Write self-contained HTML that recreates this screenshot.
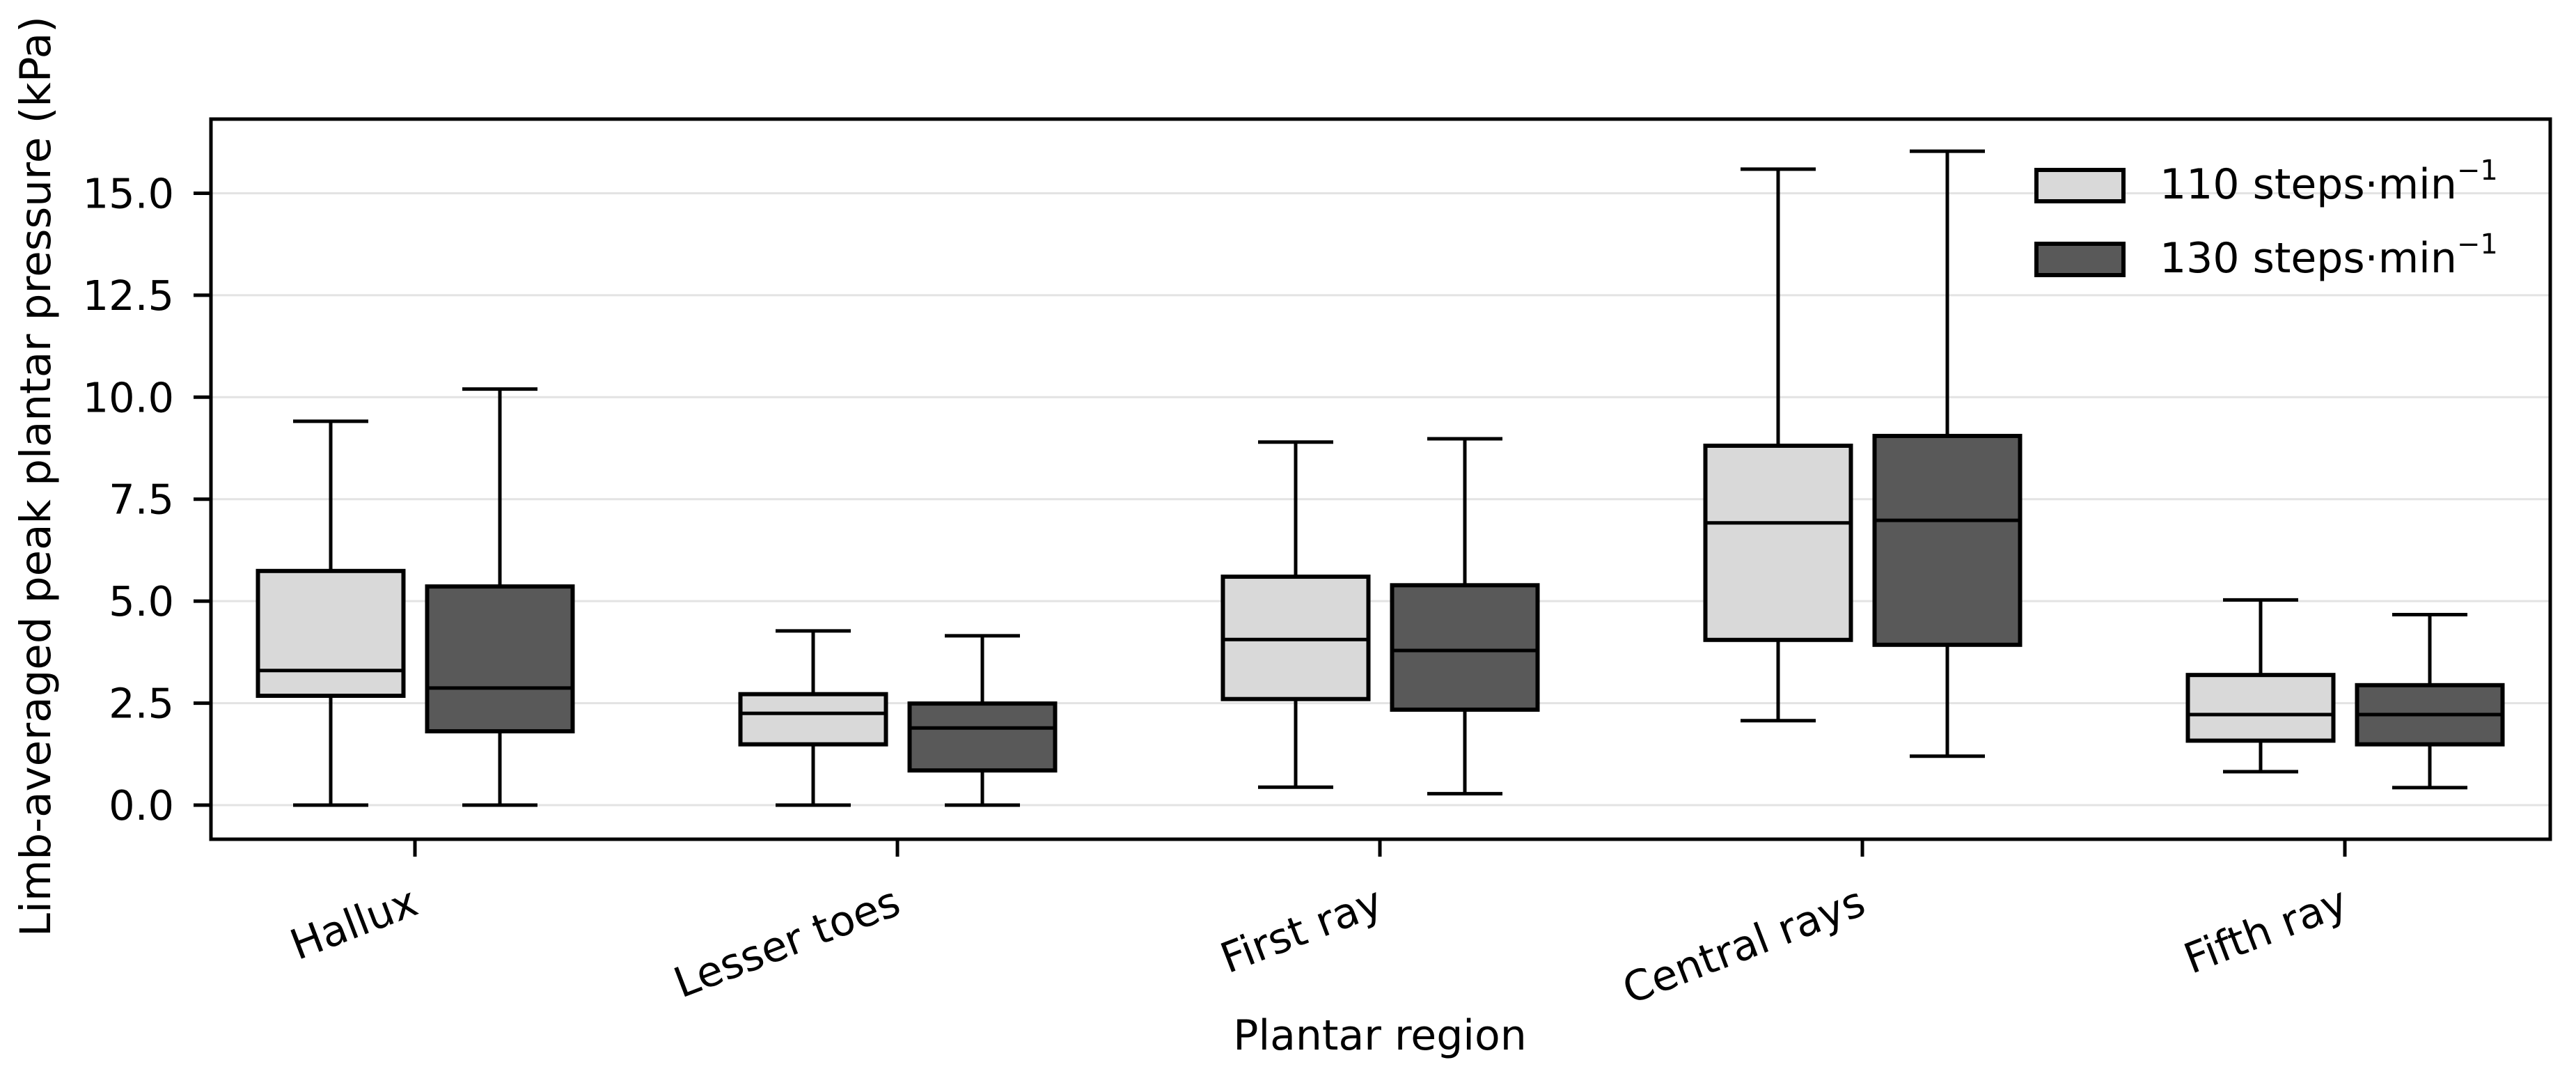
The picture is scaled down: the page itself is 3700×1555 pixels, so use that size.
<!DOCTYPE html>
<html><head><meta charset="utf-8"><style>
html,body{margin:0;padding:0;background:#fff;}
svg{display:block;font-family:"DejaVu Sans","Liberation Sans",sans-serif;}
</style></head><body>
<svg id="chart" width="3700" height="1555" viewBox="0 0 3700 1555">
<g id="grid"></g>
<g id="boxes"></g>
<rect x="303" y="171" width="3360" height="1034" fill="none" stroke="#000" stroke-width="5"/>
<g id="yaxis"></g>
<g id="xaxis"></g>
<text x="1982" y="1507" font-size="60" text-anchor="middle">Plantar region</text>
<text transform="translate(72,684) rotate(-90)" font-size="61" text-anchor="middle">Limb-averaged peak plantar pressure (kPa)</text>
<g>
<rect x="2925" y="244" width="125" height="45" fill="#d9d9d9" stroke="#000" stroke-width="6"/>
<text x="3102" y="285" font-size="60">110 steps·min<tspan font-size="40" dy="-27">−1</tspan></text>
<rect x="2925" y="350" width="125" height="45" fill="#595959" stroke="#000" stroke-width="6"/>
<text x="3102" y="391" font-size="60">130 steps·min<tspan font-size="40" dy="-27">−1</tspan></text>
</g>
</svg>
<script>
const categories = ["Hallux","Lesser toes","First ray","Central rays","Fifth ray"];
const yTicks = [0,2.5,5,7.5,10,12.5,15];
const yTickLabels = ["0.0","2.5","5.0","7.5","10.0","12.5","15.0"];
// [low whisker, Q1, median, Q3, high whisker]
const series110 = [[0,2.68,3.30,5.74,9.41],[0,1.49,2.25,2.72,4.27],[0.44,2.6,4.06,5.6,8.9],[2.07,4.05,6.92,8.81,15.59],[0.82,1.58,2.22,3.19,5.03]];
const series130 = [[0,1.81,2.87,5.36,10.2],[0,0.85,1.89,2.49,4.15],[0.28,2.34,3.79,5.39,8.98],[1.2,3.93,6.98,9.05,16.03],[0.43,1.49,2.22,2.94,4.67]];

const NS="http://www.w3.org/2000/svg";
const X0=303,X1=3663,Y0=171,Y1=1205;
const yScale=v=>1156-v*58.57;
const xScale=i=>596+i*693;
function mk(tag,attrs,parent){const e=document.createElementNS(NS,tag);for(const k in attrs)e.setAttribute(k,attrs[k]);parent.appendChild(e);return e;}
const grid=document.getElementById('grid'),yaxis=document.getElementById('yaxis'),xaxis=document.getElementById('xaxis'),boxes=document.getElementById('boxes');
yTicks.forEach((t,i)=>{
  const y=yScale(t);
  const g=mk('line',{x1:X0,x2:X1,y1:y,y2:y,stroke:'#e3e3e3','stroke-width':3},grid);
  
  
  const tk=mk('line',{x1:X0-25,x2:X0,y1:y,y2:y,stroke:'#000','stroke-width':5},yaxis);
  
  
  const tx=mk('text',{x:250,y:y+21,'font-size':59,'text-anchor':'end'},yaxis);
  tx.textContent=yTickLabels[i];
  
  
});
categories.forEach((c,i)=>{
  const x=xScale(i);
  const tk=mk('line',{x1:x,x2:x,y1:Y1,y2:Y1+25,stroke:'#000','stroke-width':5},xaxis);
  
  
  const tx=mk('text',{x:0,y:0,'font-size':60,'text-anchor':'end','dominant-baseline':'hanging',transform:`translate(${x-8},1270) rotate(-21)`},xaxis);
  tx.textContent=c;
  
  
});
function drawBox(d,cx,fill,name){
  const g=mk('g',{},boxes);
  
  
  const w=209,cap=108;
  const [lo,q1,md,q3,hi]=d.map(yScale);
  mk('line',{x1:cx,x2:cx,y1:hi,y2:q3,stroke:'#000','stroke-width':5},g);
  mk('line',{x1:cx,x2:cx,y1:q1,y2:lo,stroke:'#000','stroke-width':5},g);
  mk('line',{x1:cx-cap/2,x2:cx+cap/2,y1:hi,y2:hi,stroke:'#000','stroke-width':5},g);
  mk('line',{x1:cx-cap/2,x2:cx+cap/2,y1:lo,y2:lo,stroke:'#000','stroke-width':5},g);
  mk('rect',{x:cx-w/2,y:q3,width:w,height:q1-q3,fill:fill,stroke:'#000','stroke-width':6},g);
  mk('line',{x1:cx-w/2,x2:cx+w/2,y1:md,y2:md,stroke:'#000','stroke-width':5},g);
}
categories.forEach((c,i)=>{
  drawBox(series110[i],xScale(i)-121,'#d9d9d9','box-110-'+i);
  drawBox(series130[i],xScale(i)+122,'#595959','box-130-'+i);
});
</script>
</body></html>
